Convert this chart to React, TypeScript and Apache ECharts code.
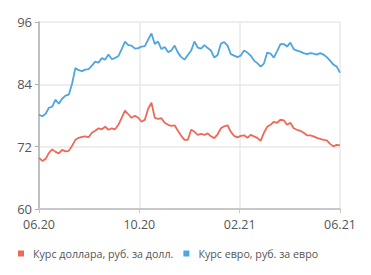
import React, { useEffect, useRef } from "react";
import * as echarts from "echarts";

const stepDays = 4;
const tickLabels = ["06.20", "10.20", "02.21", "06.21"];
const usdName = "Курс доллара, руб. за долл.";
const eurName = "Курс евро, руб. за евро";

const eurValues = [
  78.14, 77.85, 78.34, 79.49, 79.69, 81.04, 80.27, 81.23, 81.81, 82.0,
  84.13, 87.12, 86.73, 86.54, 86.83, 86.93, 87.6, 88.37, 88.18, 89.05,
  88.76, 89.73, 88.86, 89.05, 89.44, 90.79, 92.24, 91.56, 91.46, 90.88,
  90.98, 91.27, 91.37, 92.62, 93.78, 91.75, 92.24, 90.79, 91.17, 90.21,
  90.5, 91.46, 90.11, 89.24, 88.76, 89.63, 90.5, 92.24, 91.08, 90.88,
  91.56, 90.98, 90.5, 89.15, 89.63, 91.85, 92.14, 91.46, 89.82, 89.53,
  89.24, 89.53, 90.5, 90.11, 89.53, 88.57, 88.08, 87.41, 87.99, 90.11,
  89.92, 89.15, 90.4, 91.75, 91.75, 91.27, 92.04, 90.79, 90.5, 90.31,
  90.02, 89.82, 90.02, 89.92, 89.73, 90.02, 89.73, 89.24, 88.57, 87.8,
  87.41, 86.25,
];

const usdValues = [
  69.84, 69.26, 69.65, 70.81, 71.48, 71.0, 70.71, 71.39, 71.1, 71.19,
  72.16, 73.32, 73.7, 73.9, 73.99, 73.8, 74.67, 75.05, 75.54, 75.34,
  75.83, 75.25, 75.54, 75.34, 76.21, 77.56, 78.92, 78.24, 77.56, 77.95,
  77.56, 76.79, 77.18, 79.3, 80.46, 77.56, 77.37, 77.47, 76.6, 76.21,
  76.02, 76.12, 75.05, 74.09, 73.32, 73.32, 75.25, 74.86, 74.28, 74.48,
  74.28, 74.57, 73.99, 73.64, 74.38, 75.54, 75.92, 76.12, 74.86, 74.09,
  73.8, 74.09, 74.19, 73.7, 74.28, 73.99, 73.7, 73.12, 74.67, 75.83,
  76.21, 76.79, 76.6, 77.18, 77.08, 76.21, 76.6, 75.54, 75.25, 75.05,
  74.67, 74.19, 74.19, 73.99, 73.7, 73.51, 73.32, 73.22, 72.54, 72.06,
  72.35, 72.25,
];

const yMin = 60;
const yMax = 96;
const yInterval = 12;

export default function App() {
  const ref = useRef<HTMLDivElement>(null);
  useEffect(() => {
    if (!ref.current) return;
    const chart = echarts.init(ref.current, undefined, { renderer: "svg" });
    const days = eurValues.map((_, i) => i * stepDays);
    const xMax = days[days.length - 1];
    const xInterval = xMax / (tickLabels.length - 1);
    const font = "'Open Sans', 'Noto Sans', sans-serif";
    chart.setOption({
      animation: false,
      grid: { left: 39, right: 31, top: 22, bottom: 66, containLabel: false },
      legend: {
        left: 13,
        bottom: 11,
        itemWidth: 6,
        itemHeight: 6,
        itemGap: 10,
        icon: "rect",
        textStyle: {
          color: "#555",
          fontSize: 10.7,
          fontFamily: font,
          padding: [0, 0, 0, 4],
        },
        data: [usdName, eurName],
      },
      xAxis: {
        type: "value",
        min: 0,
        max: xMax,
        interval: xInterval,
        axisLine: { show: true, lineStyle: { color: "#c8c8c8", width: 2 } },
        axisTick: { show: true, length: 4, lineStyle: { color: "#c8c8c8" } },
        axisLabel: {
          color: "#555",
          fontSize: 12.5,
          fontFamily: font,
          margin: 9,
          formatter: (v: number) => tickLabels[Math.round(v / xInterval)] ?? "",
        },
        splitLine: { show: true, lineStyle: { color: "#e8e8e8", width: 1.5 } },
      },
      yAxis: {
        type: "value",
        min: yMin,
        max: yMax,
        interval: yInterval,
        axisLine: { show: true, lineStyle: { color: "#b0b0b0", width: 1.5 } },
        axisTick: { show: true, length: 4, lineStyle: { color: "#b0b0b0" } },
        axisLabel: {
          color: "#555",
          fontSize: 13,
          fontFamily: font,
          margin: 7,
        },
        splitLine: { show: true, lineStyle: { color: "#e8e8e8", width: 1.5 } },
      },
      series: [
        {
          name: usdName,
          type: "line",
          data: usdValues.map((v, i) => [days[i], v]),
          showSymbol: false,
          lineStyle: { color: "#ec6a58", width: 1.8 },
          itemStyle: { color: "#ec6a58" },
        },
        {
          name: eurName,
          type: "line",
          data: eurValues.map((v, i) => [days[i], v]),
          showSymbol: false,
          lineStyle: { color: "#4da6e0", width: 1.8 },
          itemStyle: { color: "#4da6e0" },
        },
      ],
    });
    return () => chart.dispose();
  }, []);
  return <div ref={ref} style={{ width: 371, height: 275, position: "absolute", left: 0, top: 0 }} />;
}
